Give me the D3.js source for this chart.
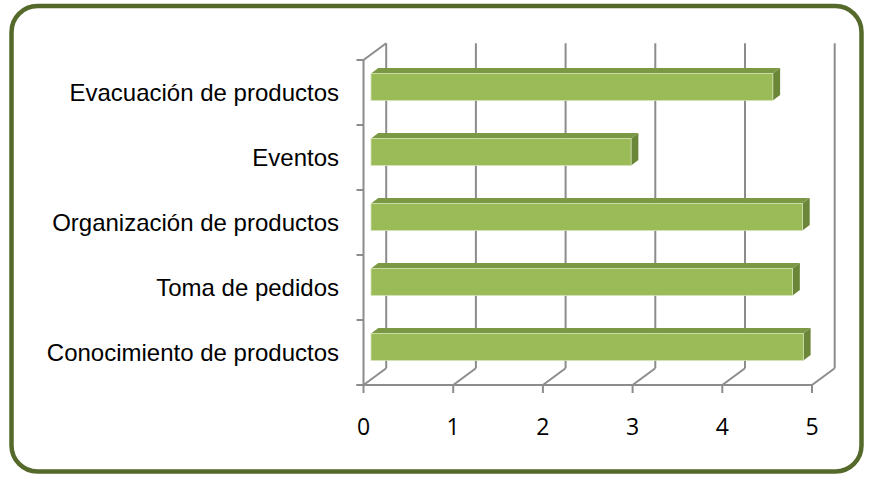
<!DOCTYPE html>
<html>
<head>
<meta charset="utf-8">
<script src="https://cdn.jsdelivr.net/npm/d3@7/dist/d3.min.js"></script>
<style>
  html, body { margin: 0; padding: 0; background: #ffffff; }
  svg { display: block; }
</style>
</head>
<body>
<svg id="chart" width="873" height="477"></svg>
<script>
// Categories, top to bottom
const categories = [
  "Evacuación de productos",
  "Eventos",
  "Organización de productos",
  "Toma de pedidos",
  "Conocimiento de productos"
];
// Average score per category
const values = [4.48, 2.90, 4.81, 4.70, 4.82];
// Value axis ticks
const xTicks = [0, 1, 2, 3, 4, 5];

const svg = d3.select("#chart");
const W = 873, H = 477;

// Outer rounded frame
svg.append("rect")
  .attr("x", 11.5).attr("y", 6)
  .attr("width", W - 23).attr("height", H - 11.5)
  .attr("rx", 26).attr("ry", 26)
  .attr("fill", "#ffffff")
  .attr("stroke", "#55692a")
  .attr("stroke-width", 4.5);

// Front plane of the 3-D plot area and depth vector to the back wall
const plotLeft = 363.5, plotRight = 812, plotTop = 60, plotBottom = 385;
const depth = { dx: 22.7, dy: -16.8 };

const x = d3.scaleLinear().domain([0, 5]).range([plotLeft, plotRight]);
const yCat = d3.scaleBand().domain(categories).range([plotTop, plotBottom]).padding(0);
const yBar = d3.scaleBand().domain(categories).range([plotTop, plotBottom])
  .paddingInner(0.585).paddingOuter(0.2925);

const gridColor = "#8c8c8c";
const grid = svg.append("g")
  .attr("stroke", gridColor).attr("stroke-width", 2).attr("fill", "none");

// Back-wall vertical gridlines
grid.selectAll("line.back").data(xTicks).join("line")
  .attr("class", "back")
  .attr("x1", d => x(d) + depth.dx).attr("x2", d => x(d) + depth.dx)
  .attr("y1", plotTop + depth.dy).attr("y2", plotBottom + depth.dy);

// Floor lines running from the front edge to the back wall
grid.selectAll("line.floor").data(xTicks).join("line")
  .attr("class", "floor")
  .attr("x1", d => x(d)).attr("y1", plotBottom)
  .attr("x2", d => x(d) + depth.dx).attr("y2", plotBottom + depth.dy);

// Front floor edge (value axis) with tick marks
grid.append("line")
  .attr("x1", plotLeft - 7).attr("x2", plotRight)
  .attr("y1", plotBottom).attr("y2", plotBottom);
grid.selectAll("line.xtick").data(xTicks).join("line")
  .attr("class", "xtick")
  .attr("x1", d => x(d)).attr("x2", d => x(d))
  .attr("y1", plotBottom).attr("y2", plotBottom + 8);

// Category axis on the front-left edge, plus top side-wall edge
grid.append("line")
  .attr("x1", plotLeft).attr("x2", plotLeft)
  .attr("y1", plotTop).attr("y2", plotBottom);
grid.append("line")
  .attr("x1", plotLeft).attr("y1", plotTop)
  .attr("x2", plotLeft + depth.dx).attr("y2", plotTop + depth.dy);
const catBounds = categories.map(c => yCat(c)).concat([plotBottom]);
grid.selectAll("line.ytick").data(catBounds).join("line")
  .attr("class", "ytick")
  .attr("x1", plotLeft - 7).attr("x2", plotLeft)
  .attr("y1", d => d).attr("y2", d => d);

// 3-D bars: front face, top face and end face
const f1 = 0.33, f2 = 0.65;
const bars = svg.append("g");
const data = categories.map((c, i) => ({ c, v: values[i] }));

function pt(px, py, f) { return [px + f * depth.dx, py + f * depth.dy]; }

bars.selectAll("polygon.top").data(data).join("polygon")
  .attr("class", "top")
  .attr("fill", "#7b9844")
  .attr("points", d => {
    const y0 = yBar(d.c);
    return [pt(x(0), y0, f1), pt(x(d.v), y0, f1), pt(x(d.v), y0, f2), pt(x(0), y0, f2)]
      .map(p => p.join(",")).join(" ");
  });

bars.selectAll("polygon.side").data(data).join("polygon")
  .attr("class", "side")
  .attr("fill", "#6b8638")
  .attr("points", d => {
    const y0 = yBar(d.c), y1 = y0 + yBar.bandwidth();
    return [pt(x(d.v), y0, f1), pt(x(d.v), y0, f2), pt(x(d.v), y1, f2), pt(x(d.v), y1, f1)]
      .map(p => p.join(",")).join(" ");
  });

bars.selectAll("rect.front").data(data).join("rect")
  .attr("class", "front")
  .attr("x", d => x(0) + f1 * depth.dx)
  .attr("y", d => yBar(d.c) + f1 * depth.dy)
  .attr("width", d => x(d.v) - x(0))
  .attr("height", yBar.bandwidth())
  .attr("fill", "#9bbb59")
  .attr("stroke", "#d4e3b5").attr("stroke-width", 0.8);

// Category labels
svg.append("g").selectAll("text").data(categories).join("text")
  .attr("x", 339)
  .attr("y", d => yCat(d) + yCat.bandwidth() / 2)
  .attr("dy", "0.35em")
  .attr("text-anchor", "end")
  .attr("font-family", "'Liberation Sans', Arial, sans-serif")
  .attr("font-size", 24)
  .attr("fill", "#000000")
  .text(d => d);

// Value tick labels
svg.append("g").selectAll("text").data(xTicks).join("text")
  .attr("x", d => x(d))
  .attr("y", 435)
  .attr("text-anchor", "middle")
  .attr("font-family", "'Open Sans', sans-serif")
  .attr("font-size", 23)
  .attr("fill", "#000000")
  .text(d => d);
</script>
</body>
</html>
